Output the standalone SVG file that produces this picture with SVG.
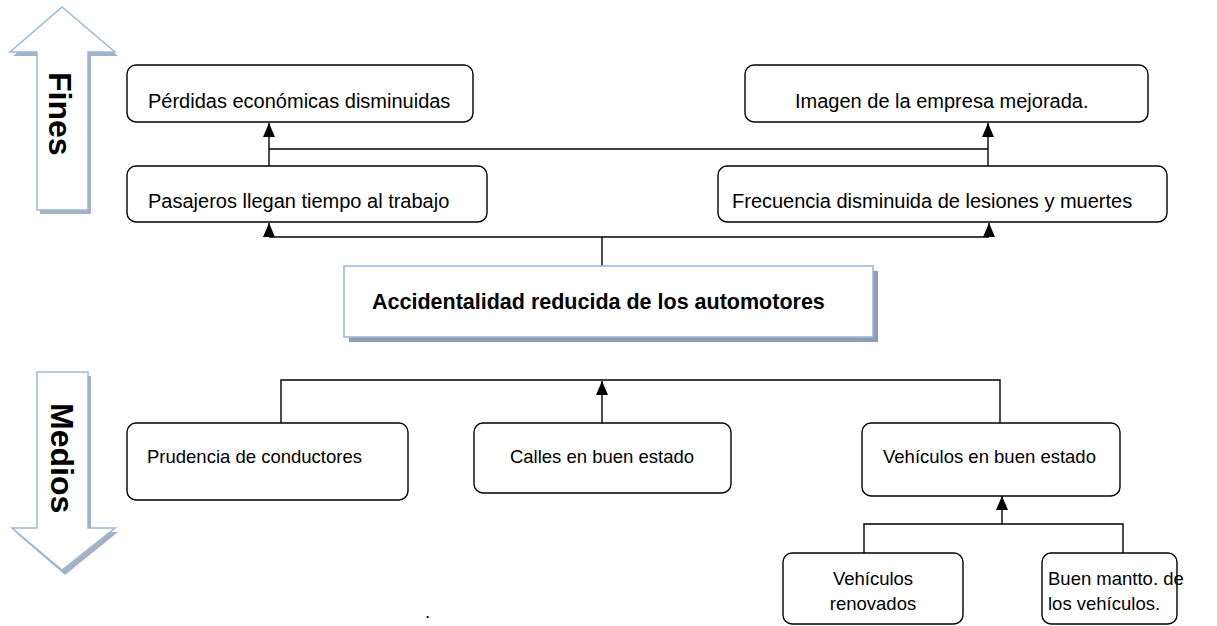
<svg xmlns="http://www.w3.org/2000/svg" width="1217" height="626" viewBox="0 0 1217 626">
<defs>
<style>
.box{fill:#fff;stroke:#000;stroke-width:1.4}
.t{font-family:"Liberation Sans",Arial,sans-serif;font-size:20px;fill:#000}
.s{font-family:"Liberation Sans",Arial,sans-serif;font-size:18.5px;fill:#000}
.side{font-family:"Liberation Sans",Arial,sans-serif;font-size:32px;font-weight:bold;fill:#000}
.ln{fill:none;stroke:#000;stroke-width:1.4}
.bigarrow{fill:#fff;stroke:#9bb8dc;stroke-width:1.5}
.shadow{fill:#98a4b6;opacity:0.85}
</style>
<marker id="ah" viewBox="0 0 14 12" refX="14" refY="6" markerWidth="14" markerHeight="12" markerUnits="userSpaceOnUse" orient="auto">
<path d="M0,0 L14,6 L0,12 Z" fill="#000"/>
</marker>
</defs>
<rect width="1217" height="626" fill="#fff"/>

<g id="fines">
<polygon class="shadow" points="65,11 118,56 91,56 91,214 40,214 40,56 13,56"/>
<polygon class="bigarrow" points="62,7 115,52 88,52 88,210 37,210 37,52 10,52"/>
<text class="side" transform="translate(49,72) rotate(90)">Fines</text>
</g>

<g id="medios">
<polygon class="shadow" points="40,376 91,376 91,532 118,532 65,575 15,532 40,532"/>
<polygon class="bigarrow" points="37,372 88,372 88,528 115,528 62,570 12,528 37,528"/>
<text class="side" transform="translate(51,403) rotate(90)">Medios</text>
</g>

<g id="connectors">
<polyline class="ln" points="269,166 269,123" marker-end="url(#ah)"/>
<polyline class="ln" points="988,166 988,123" marker-end="url(#ah)"/>
<line class="ln" x1="269" y1="149" x2="988" y2="149"/>
<line class="ln" x1="269" y1="237" x2="989" y2="237"/>
<line class="ln" x1="269" y1="237" x2="269" y2="223" marker-end="url(#ah)"/>
<line class="ln" x1="989" y1="237" x2="989" y2="223" marker-end="url(#ah)"/>
<line class="ln" x1="602" y1="237" x2="602" y2="266"/>
<polyline class="ln" points="281,423 281,380 1000,380 1000,423"/>
<line class="ln" x1="602" y1="423" x2="602" y2="381" marker-end="url(#ah)"/>
<polyline class="ln" points="864,553 864,524 1123,524 1123,553"/>
<line class="ln" x1="1002" y1="524" x2="1002" y2="496" marker-end="url(#ah)"/>
</g>

<g id="perdidas">
<rect class="box" x="127" y="65" width="346" height="57" rx="9"/>
<text class="t" x="148" y="108">Pérdidas económicas disminuidas</text>
</g>
<g id="imagen">
<rect class="box" x="745" y="65" width="403" height="57" rx="9"/>
<text class="t" x="795" y="108">Imagen de la empresa mejorada.</text>
</g>
<g id="pasajeros">
<rect class="box" x="127" y="166" width="360" height="56" rx="9"/>
<text class="t" x="148" y="208">Pasajeros llegan tiempo al trabajo</text>
</g>
<g id="frecuencia">
<rect class="box" x="718" y="166" width="449" height="56" rx="9"/>
<text class="t" x="732" y="208">Frecuencia disminuida de lesiones y muertes</text>
</g>

<g id="central">
<rect x="349" y="271" width="529" height="71" fill="#8f9db3"/>
<rect x="344" y="266" width="529" height="71" fill="#fff" stroke="#9bb8dc" stroke-width="1.6"/>
<text x="372" y="309" font-family="Liberation Sans, Arial, sans-serif" font-size="21.5" font-weight="bold" fill="#000">Accidentalidad reducida de los automotores</text>
</g>

<g id="prudencia">
<rect class="box" x="127" y="423" width="281" height="77" rx="9"/>
<text class="s" x="147" y="463">Prudencia de conductores</text>
</g>
<g id="calles">
<rect class="box" x="474" y="423" width="257" height="70" rx="9"/>
<text class="s" x="602" y="463" text-anchor="middle">Calles en buen estado</text>
</g>
<g id="vehiculos">
<rect class="box" x="862" y="423" width="258" height="73" rx="9"/>
<text class="s" x="883" y="463">Vehículos en buen estado</text>
</g>
<g id="renovados">
<rect class="box" x="783" y="553" width="180" height="71" rx="9"/>
<text class="s" x="873" y="585" text-anchor="middle">Vehículos</text>
<text class="s" x="873" y="610" text-anchor="middle">renovados</text>
</g>
<g id="mantto">
<rect class="box" x="1042" y="553" width="135" height="71" rx="9"/>
<text class="s" x="1048" y="585" font-size="16.5">Buen mantto. de</text>
<text class="s" x="1048" y="610" font-size="16.5">los vehículos.</text>
</g>
<text class="s" x="425" y="618" font-size="14">.</text>
</svg>
